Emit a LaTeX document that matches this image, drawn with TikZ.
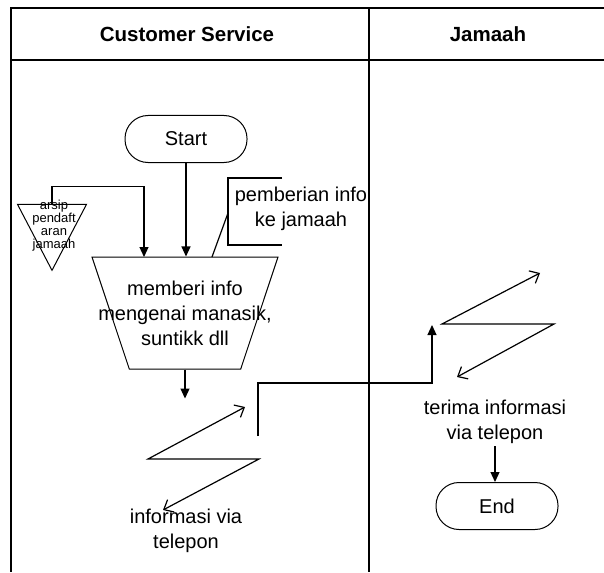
\documentclass[tikz,border=0pt]{standalone}
\usepackage{fontspec}
\setmainfont{Liberation Sans}
\usetikzlibrary{shapes.geometric,arrows.meta}
\tikzset{
    lane-line/.style = {draw=black, line width=1.2pt},
    lane-title/.style = {font=\fontsize{20.5}{24}\selectfont\bfseries},
    terminal-box/.style = {draw=black, line width=1pt, rectangle, rounded corners=23pt, minimum width=122pt, minimum height=47pt, font=\fontsize{20}{25}\selectfont},
    manual-box/.style = {draw=black, line width=1pt, trapezium, trapezium stretches=true, shape border rotate=180, trapezium angle=71.5, minimum width=186pt, minimum height=112pt, inner sep=1pt},
    store-tri/.style = {draw=black, line width=1pt, isosceles triangle, isosceles triangle stretches=true, shape border rotate=270, minimum width=69pt, minimum height=66pt, inner sep=1pt},
    body-text/.style = {align=center, inner sep=2pt, font=\fontsize{20}{25}\selectfont},
    small-text/.style = {align=center, inner sep=0pt, font=\fontsize{13}{13}\selectfont},
    flow/.style = {line width=1.2pt, -{Triangle[length=10pt,width=9pt]}},
    plain-line/.style = {line width=1.2pt},
    bolt/.style = {line width=1.2pt, {Straight Barb[length=8pt,width=14pt]}-{Straight Barb[length=8pt,width=14pt]}},
}

\begin{document}
\begin{tikzpicture}[x=1pt, y=-1pt]
\useasboundingbox (0,0) rectangle (604,572);
\draw[lane-line] (604,8) -- (11,8) -- (11,572);
\draw[lane-line] (11,60) -- (604,60);
\draw[lane-line] (369,8) -- (369,572);
\node[lane-title] (cs-title) at (187,34) {Customer Service};
\node[lane-title] (jm-title) at (488,34) {Jamaah};

\node[terminal-box] (start) at (186,139) {Start};
\node[manual-box] (info) at (185,313) {};
\node[body-text] (info-text) at (info.center) {memberi info\\mengenai manasik,\\suntikk dll};
\node[store-tri] (arsip) at (52,225) {};
\node[small-text] (arsip-text) at (54,226) {arsip\\pendaft\\aran\\jamaah};
\node[body-text, inner sep=0pt] (note) at (301,209) {pemberian info\\ke jamaah};
\coordinate (note-top) at (282,178);
\coordinate (note-bottom) at (282,245);
\coordinate (note-link) at (228,213);

\draw[flow] (start.south) -- (start.south |- info.north);
\draw[flow] (arsip.north) -- ++(0,-17) -| (144,257);
\draw[plain-line] (note-top) -| (note-bottom -| note-link) -- (note-bottom);
\draw[plain-line] (note-link) -- (212,257);
\draw[flow] (info.south) -- ++(0,29);

\coordinate (cs-bolt-a) at (245,407);
\coordinate (cs-bolt-b) at (148,459);
\coordinate (cs-bolt-c) at (259,459);
\coordinate (cs-bolt-d) at (163,510);
\draw[bolt] (cs-bolt-a) -- (cs-bolt-b) -- (cs-bolt-c) -- (cs-bolt-d);
\node[body-text] (cs-call) at (186,531) {informasi via\\telepon};

\coordinate (link-start) at (258,436);
\coordinate (link-end) at (432,325);
\draw[flow] (link-start) -- ++(0,-53) -| (link-end);

\coordinate (jm-bolt-a) at (540,273);
\coordinate (jm-bolt-b) at (442,324);
\coordinate (jm-bolt-c) at (554,324);
\coordinate (jm-bolt-d) at (457,377);
\draw[bolt] (jm-bolt-a) -- (jm-bolt-b) -- (jm-bolt-c) -- (jm-bolt-d);
\node[body-text] (recv) at (495,422) {terima informasi\\via telepon};
\node[terminal-box] (end) at (497,506) {End};
\draw[flow] (recv.south) -- (recv.south |- end.north);
\end{tikzpicture}
\end{document}
